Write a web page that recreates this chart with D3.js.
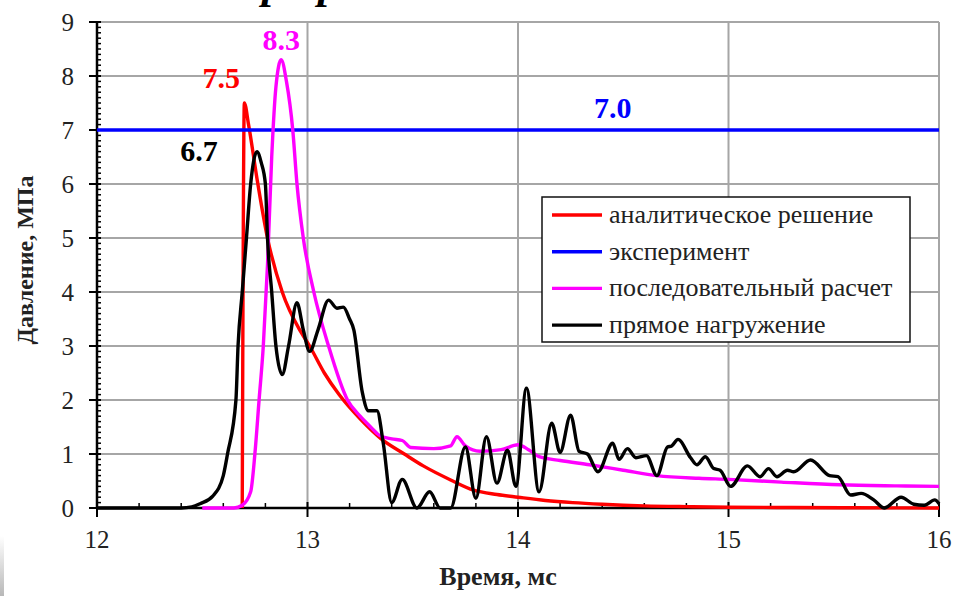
<!DOCTYPE html>
<html>
<head>
<meta charset="utf-8">
<script src="https://cdn.jsdelivr.net/npm/d3@7"></script>
<style>
  html, body { margin: 0; padding: 0; background: #fff; }
  svg { display: block; }
</style>
</head>
<body>
<svg id="chart" width="955" height="596"></svg>
<script>
// Pressure vs time: analytic solution, experiment, sequential and direct-load computations
const FONT = '"Liberation Serif"';

const xTicks = [12, 13, 14, 15, 16];
const yTicks = [0, 1, 2, 3, 4, 5, 6, 7, 8, 9];

const analyticT = [12.69, 12.70, 12.72, 12.76, 12.81, 12.88, 12.97, 13.01, 13.08, 13.15, 13.25, 13.35, 13.46, 13.55, 13.68, 13.79, 13.90, 14.00, 14.13, 14.26, 14.40, 14.60, 14.80, 15.00, 15.30, 15.60, 16.00];
const analyticV = [0, 7.5, 7.1, 6.1, 5.0, 4.0, 3.25, 3.0, 2.5, 2.1, 1.65, 1.28, 1.0, 0.78, 0.52, 0.33, 0.25, 0.2, 0.14, 0.1, 0.07, 0.04, 0.025, 0.015, 0.008, 0.004, 0];

const experimentT = [12, 16];
const experimentV = [7.0, 7.0];

const sequentialT = [12.50, 12.65, 12.69, 12.73, 12.75, 12.77, 12.79, 12.81, 12.83, 12.85, 12.875, 12.90, 12.93, 12.95, 12.98, 13.03, 13.10, 13.19, 13.25, 13.30, 13.34, 13.40, 13.45, 13.49, 13.60, 13.68, 13.71, 13.75, 13.82, 13.92, 14.00, 14.05, 14.10, 14.20, 14.34, 14.50, 14.66, 14.86, 15.00, 15.25, 15.53, 15.80, 16.00];
const sequentialV = [0, 0, 0.05, 0.3, 1.0, 2.0, 3.0, 4.5, 6.5, 7.8, 8.3, 7.9, 7.0, 6.0, 5.0, 4.0, 3.0, 2.0, 1.7, 1.5, 1.35, 1.28, 1.25, 1.12, 1.1, 1.15, 1.32, 1.15, 1.05, 1.08, 1.17, 1.08, 0.95, 0.88, 0.8, 0.7, 0.6, 0.55, 0.53, 0.48, 0.43, 0.41, 0.4];

const directT = [12.00, 12.40, 12.45, 12.49, 12.55, 12.60, 12.62, 12.66, 12.67, 12.69, 12.71, 12.73, 12.76, 12.78, 12.80, 12.81, 12.83, 12.85, 12.88, 12.91, 12.95, 12.98, 13.01, 13.05, 13.10, 13.14, 13.17, 13.20, 13.22, 13.26, 13.29, 13.33, 13.36, 13.40, 13.45, 13.52, 13.58, 13.63, 13.68, 13.75, 13.80, 13.85, 13.90, 13.95, 13.99, 14.04, 14.10, 14.16, 14.20, 14.25, 14.29, 14.33, 14.38, 14.45, 14.48, 14.52, 14.56, 14.61, 14.66, 14.71, 14.73, 14.76, 14.82, 14.85, 14.89, 14.93, 14.96, 15.01, 15.09, 15.15, 15.19, 15.23, 15.28, 15.31, 15.39, 15.48, 15.52, 15.58, 15.63, 15.69, 15.74, 15.82, 15.88, 15.93, 15.98, 16.00];
const directV = [0, 0, 0.02, 0.08, 0.22, 0.6, 1.0, 2.0, 3.0, 4.0, 5.0, 6.0, 6.6, 6.4, 6.0, 5.0, 4.0, 3.0, 2.47, 3.0, 3.8, 3.3, 2.9, 3.3, 3.85, 3.7, 3.72, 3.5, 3.3, 2.15, 1.8, 1.8, 1.2, 0.1, 0.53, 0, 0.3, 0, 0, 1.13, 0.18, 1.32, 0.46, 1.07, 0.4, 2.22, 0.3, 1.57, 1.03, 1.72, 1.05, 1.0, 0.67, 1.2, 0.9, 1.1, 0.93, 0.97, 0.6, 1.13, 1.15, 1.27, 0.93, 0.8, 0.95, 0.73, 0.7, 0.4, 0.78, 0.58, 0.73, 0.58, 0.7, 0.67, 0.89, 0.6, 0.58, 0.24, 0.27, 0.15, 0, 0.2, 0.07, 0.05, 0.15, 0.08];

const seriesNames = ["аналитическое решение", "эксперимент", "последовательный расчет", "прямое нагружение"];
const seriesColors = ["#ff0000", "#0000ff", "#ff00ff", "#000000"];

const peakLabels = ["7.5", "8.3", "6.7", "7.0"];

const svg = d3.select("#chart");
const x = d3.scaleLinear().domain([12, 16]).range([97, 939]);
const y = d3.scaleLinear().domain([0, 9]).range([508, 22]);

// faint edge shading in the lower-left corner
const defs = svg.append("defs");
const grad = defs.append("linearGradient").attr("id", "edge").attr("x1", 0).attr("y1", 0).attr("x2", 0).attr("y2", 1);
grad.append("stop").attr("offset", 0).attr("stop-color", "#fff");
grad.append("stop").attr("offset", 1).attr("stop-color", "#b8b8b8");
svg.append("rect").attr("x", 0).attr("y", 536).attr("width", 4).attr("height", 60).attr("fill", "url(#edge)");

// title descenders at the very top
svg.append("text")
  .attr("y", -2).style("font-family", FONT)
  .attr("font-size", 44).attr("font-weight", "bold").attr("font-style", "italic")
  .selectAll("tspan").data(["р", "р"]).join("tspan")
  .attr("x", (d, i) => [262, 318][i])
  .text(d => d);

// grid
const grid = svg.append("g").attr("stroke", "#a6a6a6").attr("stroke-width", 2);
grid.selectAll("line.h").data(yTicks.filter(d => d > 0)).join("line")
  .attr("x1", x(12)).attr("x2", x(16)).attr("y1", d => y(d)).attr("y2", d => y(d));
grid.selectAll("line.v").data(xTicks.filter(d => d > 12)).join("line")
  .attr("y1", y(0)).attr("y2", y(9)).attr("x1", d => x(d)).attr("x2", d => x(d));

// axes
const axisG = svg.append("g").attr("stroke", "#000");
axisG.append("line").attr("x1", x(12)).attr("x2", x(12)).attr("y1", y(9)).attr("y2", y(0)).attr("stroke-width", 2.5);
axisG.append("line").attr("x1", x(12)).attr("x2", x(16)).attr("y1", y(0)).attr("y2", y(0)).attr("stroke-width", 2.5);

const yMinor = d3.range(0, 90).map(i => i / 10).filter(v => Math.abs(v - Math.round(v)) > 1e-6);
axisG.selectAll("line.ymin").data(yMinor).join("line")
  .attr("x1", x(12)).attr("x2", x(12) + 4).attr("y1", d => y(d)).attr("y2", d => y(d)).attr("stroke-width", 1.5);
axisG.selectAll("line.ymaj").data(yTicks).join("line")
  .attr("x1", x(12) - 8).attr("x2", x(12) + 4).attr("y1", d => y(d)).attr("y2", d => y(d)).attr("stroke-width", 2);

const xMinor = d3.range(0, 20).map(i => 12 + i / 5).filter(v => Math.abs(v - Math.round(v)) > 1e-6);
axisG.selectAll("line.xmin").data(xMinor).join("line")
  .attr("x1", d => x(d)).attr("x2", d => x(d)).attr("y1", y(0) - 5).attr("y2", y(0)).attr("stroke-width", 1.5);
axisG.selectAll("line.xmaj").data(xTicks).join("line")
  .attr("x1", d => x(d)).attr("x2", d => x(d)).attr("y1", y(0) - 6).attr("y2", y(0) + 9).attr("stroke-width", 2);

svg.append("g").attr("font-size", 25).attr("fill", "#222").attr("text-anchor", "end")
  .selectAll("text").data(yTicks).join("text").style("font-family", FONT)
  .attr("x", 74).attr("y", d => y(d)).attr("dy", "0.34em").text(d => d);
svg.append("g").attr("font-size", 25).attr("fill", "#222").attr("text-anchor", "middle")
  .selectAll("text").data(xTicks).join("text").style("font-family", FONT)
  .attr("x", d => x(d)).attr("y", 548).text(d => d);

svg.append("text").attr("x", 498).attr("y", 585).attr("text-anchor", "middle").style("font-family", FONT)
  .attr("font-size", 26).attr("font-weight", "bold").attr("fill", "#222").text("Время, мс");
svg.append("text").attr("transform", "translate(33,260) rotate(-90)").attr("text-anchor", "middle").style("font-family", FONT)
  .attr("font-size", 24).attr("font-weight", "bold").attr("fill", "#222").text("Давление, МПа");

// curves (all smoothed with a monotone spline so the peaks stay sharp and nothing dips below zero)
const smooth = d3.line().x(d => x(d[0])).y(d => y(d[1])).curve(d3.curveMonotoneX);
const zipPts = (t, v) => t.map((ti, i) => [ti, v[i]]);

const curves = [
  zipPts(analyticT, analyticV),
  zipPts(experimentT, experimentV),
  zipPts(sequentialT, sequentialV),
  zipPts(directT, directV)
];
curves.forEach((pts, i) => {
  svg.append("path").attr("d", smooth(pts)).attr("fill", "none")
    .attr("stroke", seriesColors[i]).attr("stroke-width", 3.4).attr("stroke-linejoin", "round");
});

// value labels
const labelPos = [
  { t: 12.59, v: analyticV[1], dy: -15, c: seriesColors[0] },
  { t: 12.875, v: sequentialV[10], dy: -10, c: seriesColors[2] },
  { t: 12.485, v: directV[12], dy: 9, c: seriesColors[3] },
  { t: 14.45, v: experimentV[0], dy: -12, c: seriesColors[1] }
];
svg.append("g").attr("font-size", 30).attr("font-weight", "bold").attr("text-anchor", "middle")
  .selectAll("text").data(labelPos).join("text").style("font-family", FONT)
  .attr("x", d => x(d.t)).attr("y", d => y(d.v) + d.dy).attr("fill", d => d.c)
  .text((d, i) => peakLabels[i]);

// legend
const lg = svg.append("g").attr("transform", "translate(542,197)");
lg.append("rect").attr("width", 368).attr("height", 145).attr("fill", "#fff").attr("stroke", "#111").attr("stroke-width", 1.5);
const rows = lg.selectAll("g.row").data(seriesNames).join("g").attr("transform", (d, i) => `translate(0,${18 + i * 36.7})`);
rows.append("line").attr("x1", 10).attr("x2", 60).attr("stroke", (d, i) => seriesColors[i]).attr("stroke-width", 3.4);
rows.append("text").attr("x", 67).attr("y", 8).attr("font-size", 26).attr("fill", "#222").style("font-family", FONT).text(d => d);
</script>
</body>
</html>
